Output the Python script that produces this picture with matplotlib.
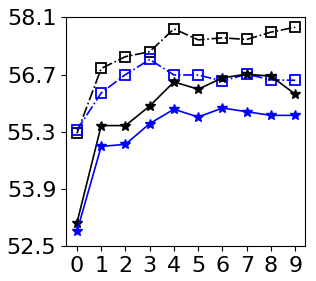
import matplotlib
matplotlib.use("Agg")
import matplotlib.pyplot as plt

x = list(range(10))
black_sq = [55.26, 56.85, 57.14, 57.26, 57.82, 57.55, 57.60, 57.56, 57.74, 57.86]
blue_sq = [55.34, 56.25, 56.70, 57.07, 56.69, 56.69, 56.54, 56.71, 56.57, 56.56]
black_star = [53.07, 55.45, 55.45, 55.93, 56.52, 56.34, 56.62, 56.71, 56.66, 56.22]
blue_star = [52.86, 54.94, 54.99, 55.50, 55.85, 55.66, 55.88, 55.79, 55.70, 55.70]
yticks = [52.5, 53.9, 55.3, 56.7, 58.1]

fig = plt.figure(figsize=(3.16, 2.81), dpi=100)
ax = fig.add_axes([0.209, 0.1246, 0.756, 0.8134])

ax.plot(x, black_sq, color='black', linestyle='-.', marker='s', markersize=6.5,
        markerfacecolor='none', markeredgewidth=1.3, linewidth=1.2)
ax.plot(x, blue_sq, color='blue', linestyle='-.', marker='s', markersize=6.5,
        markerfacecolor='none', markeredgewidth=1.3, linewidth=1.2)
ax.plot(x, black_star, color='black', linestyle='-', marker='*', markersize=7.5,
        linewidth=1.2)
ax.plot(x, blue_star, color='blue', linestyle='-', marker='*', markersize=7.5,
        linewidth=1.2)

ax.set_ylim(52.5, 58.1)
ax.set_yticks(yticks)
ax.set_yticklabels([f"{v:.1f}" for v in yticks])
ax.set_xticks(x)
ax.set_xlim(-0.45, 9.4)
ax.tick_params(labelsize=16)

fig.savefig("out.png", dpi=100)
